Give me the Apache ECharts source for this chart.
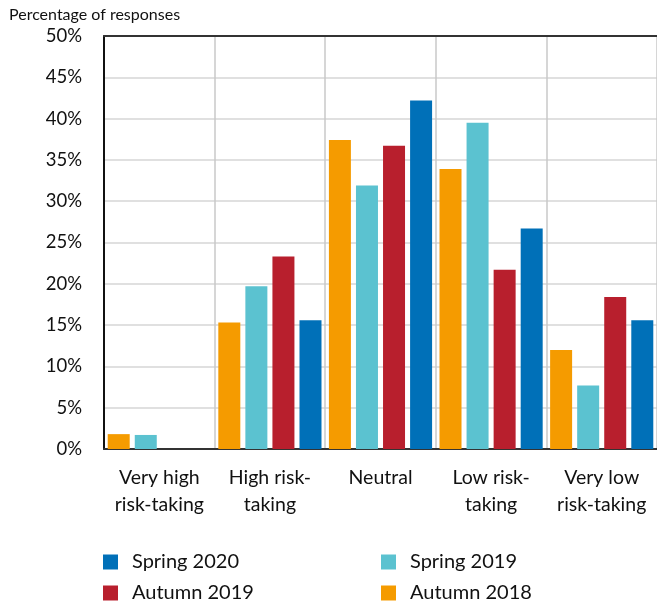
<!DOCTYPE html>
<html>
<head>
<meta charset="utf-8">
<script src="https://cdn.jsdelivr.net/npm/echarts@6/dist/echarts.min.js"></script>
<style>
  html, body { margin: 0; padding: 0; background: #fff; }
  #chart { width: 657px; height: 610px; }
</style>
</head>
<body>
<div id="chart"></div>
<script>
// Risk-taking categories (x axis)
const categories = ['Very high\nrisk-taking', 'High risk-\ntaking', 'Neutral', 'Low risk-\ntaking', 'Very low\nrisk-taking'];

// Survey rounds, share of responses in percent
const autumn2018 = [1.8, 15.3, 37.4, 33.9, 12.0];
const spring2019 = [1.7, 19.7, 31.9, 39.5, 7.7];
const autumn2019 = [0, 23.3, 36.7, 21.7, 18.4];
const spring2020 = [0, 15.6, 42.2, 26.7, 15.6];

// Y axis range
const yMin = 0;
const yMax = 50;
const yStep = 5;

const FONT = 'Lato';
const TEXT = '#111';
const colors = {
  'Autumn 2018': '#F59B00',
  'Spring 2019': '#5BC2D0',
  'Autumn 2019': '#B81F2D',
  'Spring 2020': '#0070B8'
};

const chart = echarts.init(document.getElementById('chart'), null, { renderer: 'canvas' });

function bar(name, data) {
  return {
    name: name,
    type: 'bar',
    data: data,
    barWidth: 22,
    barGap: '23%',
    itemStyle: { color: colors[name] }
  };
}

// One legend entry per slot: two columns, two rows
function legendItem(name, left, top) {
  return {
    data: [name],
    left: left,
    top: top,
    padding: 0,
    itemWidth: 15,
    itemHeight: 15,
    itemGap: 14,
    icon: 'rect',
    textStyle: { fontFamily: FONT, fontSize: 20, color: TEXT, padding: [0, 0, 0, 9] }
  };
}

chart.setOption({
  animation: false,
  textStyle: { fontFamily: FONT },
  title: {
    text: 'Percentage of responses',
    left: 9,
    top: 7,
    padding: 0,
    textStyle: { fontFamily: FONT, fontSize: 16, fontWeight: 'normal', color: TEXT }
  },
  legend: [
    legendItem('Spring 2020', 103, 552),
    legendItem('Autumn 2019', 103, 583),
    legendItem('Spring 2019', 381, 552),
    legendItem('Autumn 2018', 381, 583)
  ],
  grid: { left: 104, right: 0, top: 36, bottom: 161, containLabel: false },
  xAxis: [
    {
      type: 'category',
      data: categories,
      axisLine: { lineStyle: { color: '#333', width: 2 } },
      axisTick: { show: false },
      splitLine: { show: true, interval: 0, lineStyle: { color: '#c8c8c8', width: 1.5 } },
      axisLabel: {
        interval: 0,
        margin: 15,
        fontFamily: FONT,
        fontSize: 19.5,
        lineHeight: 27,
        color: TEXT
      }
    },
    {
      type: 'category',
      data: categories,
      position: 'top',
      axisLine: { show: true, lineStyle: { color: '#333', width: 2 } },
      axisTick: { show: false },
      axisLabel: { show: false },
      splitLine: { show: false }
    }
  ],
  yAxis: {
    type: 'value',
    min: yMin,
    max: yMax,
    interval: yStep,
    axisLine: { show: true, lineStyle: { color: '#111', width: 2 } },
    axisTick: { show: false },
    splitLine: { show: true, lineStyle: { color: '#d6d6d6', width: 1.5 } },
    axisLabel: {
      formatter: '{value}%',
      margin: 22,
      fontFamily: FONT,
      fontSize: 18.5,
      color: TEXT
    }
  },
  series: [
    bar('Autumn 2018', autumn2018),
    bar('Spring 2019', spring2019),
    bar('Autumn 2019', autumn2019),
    bar('Spring 2020', spring2020)
  ]
});
</script>
</body>
</html>
